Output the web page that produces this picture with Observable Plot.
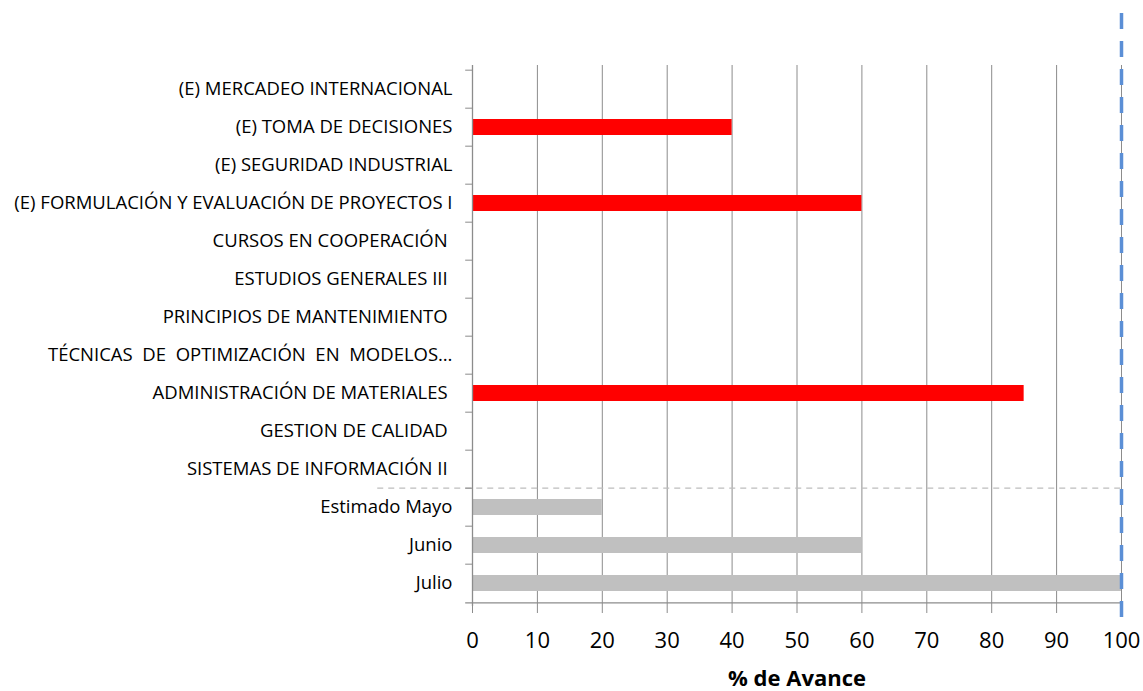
<!DOCTYPE html>
<html>
<head>
<meta charset="utf-8">
<script src="https://cdn.jsdelivr.net/npm/d3@7"></script>
<script src="https://cdn.jsdelivr.net/npm/@observablehq/plot@0.6"></script>
<style>
  html, body { margin: 0; padding: 0; background: #fff; }
  #chart svg { display: block; }
</style>
</head>
<body>
<div id="chart"></div>
<script>
// ---- data ----
const categories = [
  "(E) MERCADEO INTERNACIONAL",
  "(E) TOMA DE DECISIONES",
  "(E) SEGURIDAD INDUSTRIAL",
  "(E) FORMULACIÓN Y EVALUACIÓN DE PROYECTOS I",
  "CURSOS EN COOPERACIÓN\u00a0",
  "ESTUDIOS GENERALES III\u00a0",
  "PRINCIPIOS DE MANTENIMIENTO\u00a0",
  "TÉCNICAS  DE  OPTIMIZACIÓN  EN  MODELOS…",
  "ADMINISTRACIÓN DE MATERIALES\u00a0",
  "GESTION DE CALIDAD\u00a0",
  "SISTEMAS DE INFORMACIÓN II\u00a0",
  "Estimado Mayo",
  "Junio",
  "Julio"
];
const values = [null, 40, null, 60, null, null, null, null, 85, null, null, 20, 60, 100];
const groups = ["asignatura","asignatura","asignatura","asignatura","asignatura","asignatura",
  "asignatura","asignatura","asignatura","asignatura","asignatura","estimado","estimado","estimado"];
const xTicks = [0, 10, 20, 30, 40, 50, 60, 70, 80, 90, 100];
const meta = [100];
const separatorBefore = ["Estimado Mayo"];
const xLabel = "% de Avance";

const rows = categories.map((c, i) => ({cat: c, value: values[i], group: groups[i]}));

// ---- layout ----
const W = 1143, H = 691, mL = 472, mR = 22, mT = 65, mB = 85;
const step = (H - mT - mB) / categories.length;
const font = "'Open Sans', Lato, sans-serif";

const chart = Plot.plot({
  width: W, height: H,
  marginLeft: mL, marginRight: mR, marginTop: mT, marginBottom: mB,
  style: {fontFamily: font, background: "#fff", color: "#000"},
  x: {domain: [0, 100], ticks: xTicks},
  y: {domain: categories, paddingInner: 0.586, paddingOuter: 0.293},
  color: {domain: ["asignatura", "estimado"], range: ["#ff0000", "#c0c0c0"]},
  marks: [
    Plot.gridX(xTicks, {stroke: "#8c8c8c", strokeOpacity: 1, strokeWidth: 1}),
    Plot.barX(rows.filter(d => d.value != null), {x: "value", y: "cat", fill: "group"}),
    // dashed separator
    Plot.ruleY(separatorBefore, {y: d => d, dy: -step / 2, x1: -14.6, x2: 100,
      stroke: "#bdbdbd", strokeWidth: 1.3, strokeDasharray: "6,5"}),
    // band boundary ticks on the y axis
    Plot.ruleY(categories, {y: d => d, dy: -step / 2, x1: -1.05, x2: 0, stroke: "#8c8c8c"}),
    Plot.ruleY(categories.slice(-1), {y: d => d, dy: step / 2, x1: -1.05, x2: 100, stroke: "#8c8c8c", strokeWidth: 1.3}),
    Plot.ruleX([0], {stroke: "#8c8c8c", strokeWidth: 1.3}),
    Plot.axisY({tickSize: 0, tickPadding: 20, fontSize: 18.5, fill: "#000", label: null}),
    Plot.axisX({ticks: xTicks, tickSize: 7, tickPadding: 19, fontSize: 22, stroke: "#8c8c8c", fill: "#000", label: null}),
    Plot.text([xLabel], {frameAnchor: "bottom", dy: 79, fontWeight: "bold", fontSize: 22, fill: "#000"}),
    // goal line
    Plot.ruleX(meta, {stroke: "#5b8fd6", strokeWidth: 3.5, strokeDasharray: "16,12", insetTop: -52, insetBottom: -11})
  ]
});
document.getElementById("chart").appendChild(chart);
</script>
</body>
</html>
